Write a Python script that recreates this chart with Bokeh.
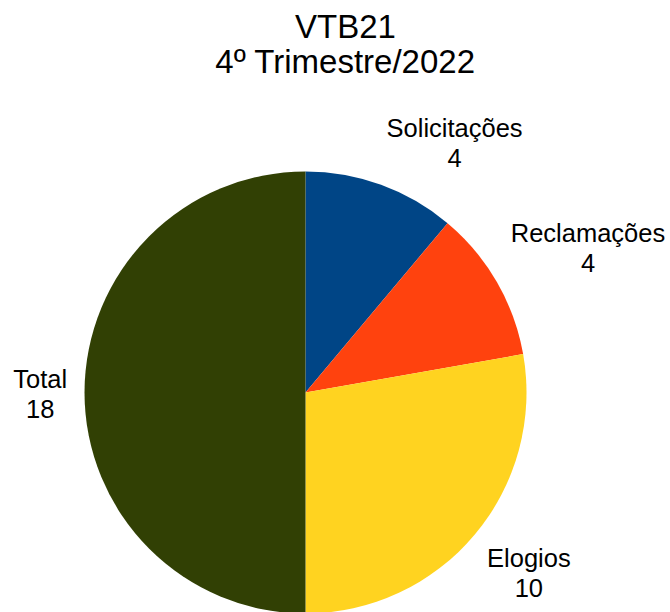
import math
from bokeh.plotting import figure
from bokeh.models import Range1d, ColumnDataSource
from bokeh.core.properties import value
from bokeh.embed import file_html
from bokeh.resources import INLINE

# Chart data
title_lines = ["VTB21", "4º Trimestre/2022"]
categories = ["Solicitações", "Reclamações", "Elogios", "Total"]
counts = [4, 4, 10, 18]
colors = ["#004586", "#ff420e", "#ffd320", "#314004"]

W, H = 670, 612
FONT = "Liberation Sans"
LABEL_PX = 25.5
TITLE_PX = 33
# the text glyph sits a little low on an alphabetic baseline; lift it back
BASE_LIFT = 0.33

# Pie geometry (page pixels, y measured upward)
cx, cy, R = 305, H - 392, 221
label_dist = 237
line_gap = 30

# Approximate advance widths (em) for Liberation Sans, used to place label blocks
ADV = {"S": .667, "o": .556, "l": .222, "i": .222, "c": .5, "t": .278, "a": .556,
       "ç": .5, "õ": .556, "e": .556, "s": .5, "R": .722, "m": .833, "E": .667,
       "g": .556, "T": .611, " ": .278}


def text_width(s, px):
    return sum(ADV.get(ch, .556) for ch in s) * px


p = figure(width=W, height=H, x_range=Range1d(0, W), y_range=Range1d(0, H),
           output_backend="svg", toolbar_location=None, min_border=0)
p.axis.visible = False
p.grid.visible = False
p.outline_line_color = None
p.background_fill_color = "white"
p.border_fill_color = "white"

# Slices run clockwise from 12 o'clock
total = sum(counts)
starts, ends, mids = [], [], []
acc = 0
for v in counts:
    a0 = math.pi / 2 - 2 * math.pi * (acc + v) / total
    a1 = math.pi / 2 - 2 * math.pi * acc / total
    starts.append(a0)
    ends.append(a1)
    mids.append((a0 + a1) / 2)
    acc += v

src = ColumnDataSource(dict(start=starts, end=ends, color=colors))
p.wedge(x=cx, y=cy, radius=R, start_angle="start", end_angle="end",
        fill_color="color", line_color=None, source=src)

# Labels: name on the first line, count below, placed outside each slice
name_x, name_y, val_x, val_y, val_txt = [], [], [], [], []
block_h = 55
lift = BASE_LIFT * LABEL_PX
for name, v, th in zip(categories, counts, mids):
    ax = cx + label_dist * math.cos(th)
    ay = cy + label_dist * math.sin(th)
    w = max(text_width(name, LABEL_PX), text_width(str(v), LABEL_PX))
    c, s = math.cos(th), math.sin(th)
    if c > 0.1:
        bx = ax + w / 2
    elif c < -0.1:
        bx = ax - w / 2
    else:
        bx = ax
    if s > 0.1:
        top = ay + block_h
    elif s < -0.1:
        top = ay
    else:
        top = ay + block_h / 2
    name_x.append(bx)
    name_y.append(top - 22 + lift)
    val_x.append(bx)
    val_y.append(top - 22 - line_gap + lift)
    val_txt.append(str(v))

p.text(x=name_x, y=name_y, text=categories, text_font=value(FONT),
       text_font_size=f"{LABEL_PX}px", text_align="center",
       text_baseline="alphabetic", text_color="black")
p.text(x=val_x, y=val_y, text=val_txt, text_font=value(FONT),
       text_font_size=f"{LABEL_PX}px", text_align="center",
       text_baseline="alphabetic", text_color="black")

# Two-line title
tlift = BASE_LIFT * TITLE_PX
p.text(x=[345, 345], y=[H - 37 + tlift, H - 72 + tlift], text=title_lines,
       text_font=value(FONT), text_font_size=f"{TITLE_PX}px",
       text_align="center", text_baseline="alphabetic", text_color="black")

open("out.html", "w").write(file_html(p, INLINE))
